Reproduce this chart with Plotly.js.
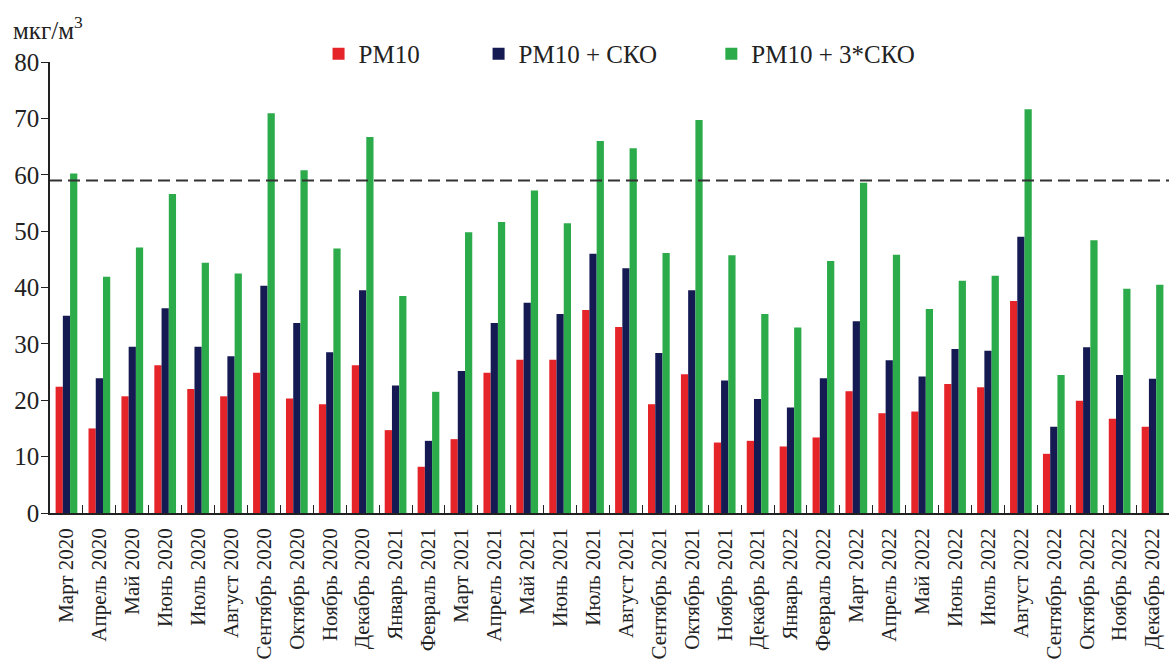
<!DOCTYPE html>
<html>
<head>
<meta charset="utf-8">
<script src="https://cdn.plot.ly/plotly-3.0.1.min.js"></script>
<style>html,body{margin:0;padding:0;background:#fff;}#chart{width:1169px;height:659px;}</style>
</head>
<body>
<div id="chart"></div>
<script>
const months = ["Март 2020","Апрель 2020","Май 2020","Июнь 2020","Июль 2020","Август 2020","Сентябрь 2020","Октябрь 2020","Ноябрь 2020","Декабрь 2020",
"Январь 2021","Февраль 2021","Март 2021","Апрель 2021","Май 2021","Июнь 2021","Июль 2021","Август 2021","Сентябрь 2021","Октябрь 2021","Ноябрь 2021","Декабрь 2021",
"Январь 2022","Февраль 2022","Март 2022","Апрель 2022","Май 2022","Июнь 2022","Июль 2022","Август 2022","Сентябрь 2022","Октябрь 2022","Ноябрь 2022","Декабрь 2022"];

const pm10 = [22.4,15.0,20.7,26.2,22.0,20.7,24.9,20.3,19.3,26.2,
14.7,8.2,13.1,24.9,27.2,27.2,36.0,33.0,19.3,24.6,12.5,12.8,
11.8,13.4,21.6,17.7,18.0,22.9,22.3,37.6,10.5,19.9,16.7,15.3];

const pm10sko = [35.0,23.9,29.5,36.3,29.5,27.8,40.3,33.7,28.5,39.5,
22.6,12.8,25.2,33.7,37.3,35.3,46.0,43.4,28.4,39.5,23.5,20.2,
18.7,23.9,34.0,27.1,24.2,29.1,28.8,49.0,15.3,29.4,24.5,23.8];

const pm10sko3 = [60.2,41.9,47.1,56.6,44.4,42.5,70.9,60.8,46.9,66.7,
38.5,21.5,49.8,51.6,57.2,51.4,66.0,64.7,46.1,69.7,45.7,35.3,
32.9,44.7,58.6,45.8,36.2,41.2,42.1,71.6,24.5,48.4,39.8,40.5];

const limitValue = 59;
const seriesNames = ["PM10", "PM10 + СКО", "PM10 + 3*СКО"];
const unitLabel = "мкг/м<sup>3</sup>";

const FONT = 'Liberation Serif';

const traces = [
  {type:'bar', x:months, y:pm10, name:seriesNames[0], marker:{color:'#e5242a'}, legend:'legend'},
  {type:'bar', x:months, y:pm10sko, name:seriesNames[1], marker:{color:'#151a52'}, legend:'legend2'},
  {type:'bar', x:months, y:pm10sko3, name:seriesNames[2], marker:{color:'#2bab4a'}, legend:'legend3'}
];

function legendAt(x) {
  return {orientation:'h', yanchor:'middle', y:1.018, xanchor:'left', x:x, bgcolor:'rgba(0,0,0,0)',
    font:{family:FONT, size:25, color:'#222'}, itemwidth:30, tracegroupgap:0};
}

const layout = {
  width:1169, height:659,
  margin:{l:50, r:0, t:62, b:146, pad:0},
  paper_bgcolor:'#fff', plot_bgcolor:'#fff',
  font:{family:FONT, color:'#222'},
  barmode:'group', bargap:0.34, bargroupgap:0,
  showlegend:true,
  legend:legendAt(0.240),
  legend2:legendAt(0.383),
  legend3:legendAt(0.591),
  xaxis:{type:'category', tickson:'boundaries', ticks:'inside', ticklen:8, tickcolor:'#222',
    showline:true, linecolor:'#222', linewidth:1.5, showgrid:false, tickangle:-90,
    ticklabelstandoff:5,
    tickfont:{family:FONT, size:21, color:'#222'}, automargin:false},
  yaxis:{range:[0,80], dtick:10, ticks:'outside', ticklen:7, tickcolor:'#222',
    showline:true, linecolor:'#222', linewidth:1.5, showgrid:false, zeroline:false,
    ticklabelstandoff:-3,
    tickfont:{family:FONT, size:25, color:'#222'}, automargin:false},
  shapes:[{type:'line', xref:'paper', x0:0, x1:1, yref:'y', y0:limitValue, y1:limitValue,
    line:{color:'#333', width:2, dash:'12px,6px'}}],
  annotations:[{text:unitLabel, xref:'paper', yref:'paper', x:-0.035, y:1.075, xanchor:'left', yanchor:'middle',
    showarrow:false, font:{family:FONT, size:25, color:'#222'}}]
};

Plotly.newPlot('chart', traces, layout, {displayModeBar:false});
</script>
</body>
</html>
